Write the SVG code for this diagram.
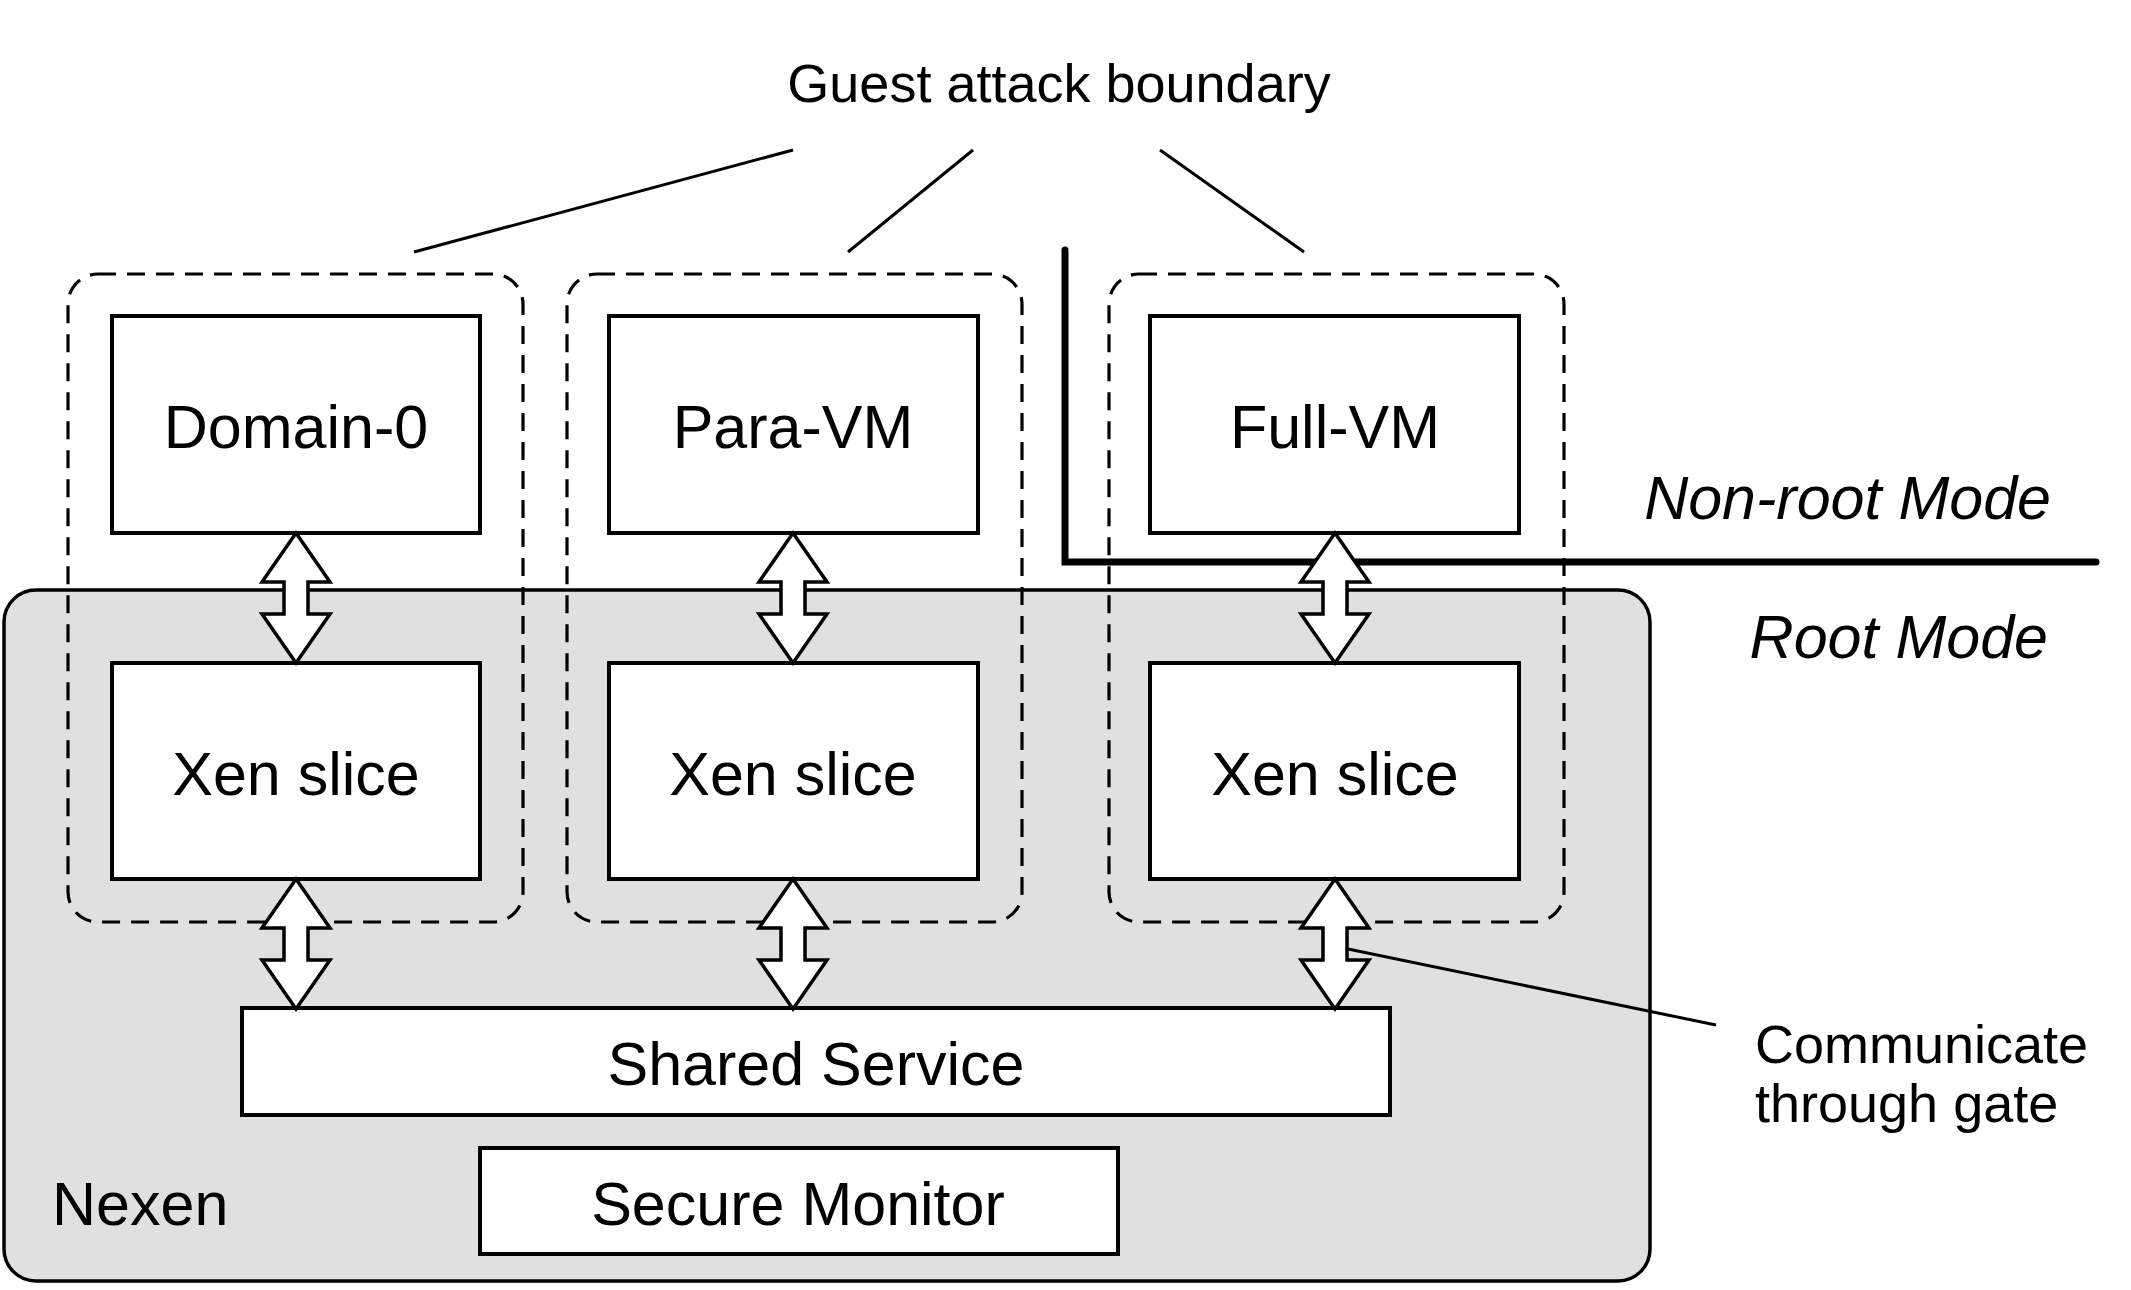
<svg xmlns="http://www.w3.org/2000/svg" width="2131" height="1290" viewBox="0 0 2131 1290">
<style>
text{font-family:"Liberation Sans",Arial,sans-serif;fill:#000}
.big{font-size:61px}
.sm{font-size:54px}
.it{font-style:italic}
.box{fill:#fff;stroke:#000;stroke-width:4}
.dash{fill:none;stroke:#000;stroke-width:3.2;stroke-dasharray:18 11}
.ln{fill:none;stroke:#000;stroke-width:3}
.arr{fill:#fff;stroke:#000;stroke-width:3.5;stroke-linejoin:miter}
</style>
<defs>
<path id="dbl" d="M0,0 L34,49 L12,49 L12,81 L34,81 L0,130 L-34,81 L-12,81 L-12,49 L-34,49 Z"/>
</defs>
<rect width="2131" height="1290" fill="#fff"/>
<g id="nexen">
<rect x="4" y="590" width="1646" height="691" rx="32" fill="#e0e0e0" stroke="#000" stroke-width="3.5"/>
<text class="big" x="52" y="1225">Nexen</text>
</g>
<g id="boundaries">
<rect class="dash" x="68" y="274" width="455" height="648" rx="30"/>
<rect class="dash" x="567" y="274" width="455" height="648" rx="30"/>
<rect class="dash" x="1109" y="274" width="455" height="648" rx="30"/>
</g>
<g id="domain0"><rect class="box" x="112" y="316" width="368" height="217"/><text class="big" x="296" y="448" text-anchor="middle">Domain-0</text></g>
<g id="paravm"><rect class="box" x="609" y="316" width="369" height="217"/><text class="big" x="793" y="448" text-anchor="middle">Para-VM</text></g>
<g id="fullvm"><rect class="box" x="1150" y="316" width="369" height="217"/><text class="big" x="1335" y="448" text-anchor="middle">Full-VM</text></g>
<g id="xen1"><rect class="box" x="112" y="663" width="368" height="216"/><text class="big" x="296" y="795" text-anchor="middle">Xen slice</text></g>
<g id="xen2"><rect class="box" x="609" y="663" width="369" height="216"/><text class="big" x="793" y="795" text-anchor="middle">Xen slice</text></g>
<g id="xen3"><rect class="box" x="1150" y="663" width="369" height="216"/><text class="big" x="1335" y="795" text-anchor="middle">Xen slice</text></g>
<g id="shared"><rect class="box" x="242" y="1008" width="1148" height="107"/><text class="big" x="816" y="1085" text-anchor="middle">Shared Service</text></g>
<g id="monitor"><rect class="box" x="480" y="1148" width="638" height="106"/><text class="big" x="798" y="1225" text-anchor="middle">Secure Monitor</text></g>
<g id="mode-line">
<path d="M1065,250 L1065,562 L2096,562" fill="none" stroke="#000" stroke-width="7" stroke-linecap="round"/>
<text class="big it" x="2051" y="519" text-anchor="end">Non-root Mode</text>
<text class="big it" x="2048" y="658" text-anchor="end">Root Mode</text>
</g>
<g id="labels">
<text class="sm" x="1059" y="102" text-anchor="middle">Guest attack boundary</text>
<text class="sm" x="1755" y="1063">Communicate</text>
<text class="sm" x="1755" y="1122">through gate</text>
</g>
<g id="connectors">
<line class="ln" x1="793" y1="150" x2="414" y2="252"/>
<line class="ln" x1="973" y1="150" x2="848" y2="252"/>
<line class="ln" x1="1160" y1="150" x2="1304" y2="252"/>
<line class="ln" x1="1348" y1="949" x2="1716" y2="1025"/>
<use href="#dbl" class="arr" transform="translate(296,533)"/>
<use href="#dbl" class="arr" transform="translate(793,533)"/>
<use href="#dbl" class="arr" transform="translate(1335,533)"/>
<use href="#dbl" class="arr" transform="translate(296,879)"/>
<use href="#dbl" class="arr" transform="translate(793,879)"/>
<use href="#dbl" class="arr" transform="translate(1335,879)"/>
</g>
</svg>
